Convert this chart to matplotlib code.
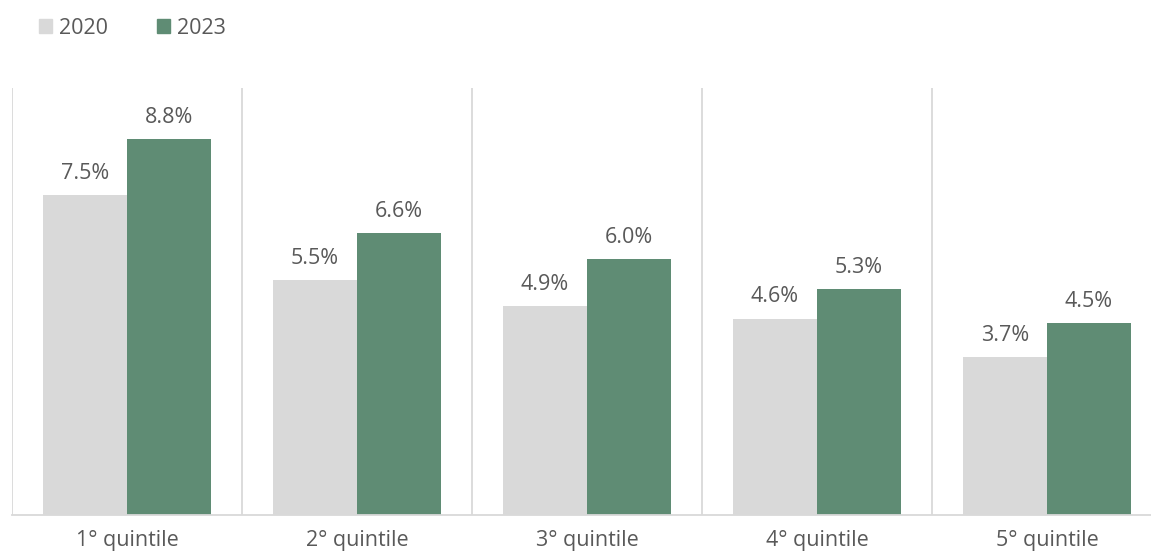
import matplotlib.pyplot as plt
import numpy as np
from matplotlib.patches import Patch

categories = ["1° quintile", "2° quintile", "3° quintile", "4° quintile", "5° quintile"]
values_2020 = [7.5, 5.5, 4.9, 4.6, 3.7]
values_2023 = [8.8, 6.6, 6.0, 5.3, 4.5]
series_labels = ["2020", "2023"]

GRAY = "#d9d9d9"
GREEN = "#5f8c74"
TEXT = "#595959"

plt.rcParams["font.family"] = ["Open Sans", "DejaVu Sans"]

fig = plt.figure(figsize=(11.51, 5.56), dpi=100)
ax = fig.add_axes([12 / 1151, 41 / 556, (1151 - 12) / 1151, (515 - 88) / 556])

x = np.arange(len(categories))
width = 0.365
bars_a = ax.bar(x - width / 2, values_2020, width, color=GRAY)
bars_b = ax.bar(x + width / 2, values_2023, width, color=GREEN)

for bars, vals in ((bars_a, values_2020), (bars_b, values_2023)):
    for b, v in zip(bars, vals):
        ax.annotate(f"{v:.1f}%", (b.get_x() + b.get_width() / 2, v),
                    xytext=(0, 8), textcoords="offset points",
                    ha="center", va="bottom", fontsize=15.5, color=TEXT)

# separators between categories
for xs in np.arange(-0.5, len(categories), 1.0):
    ax.axvline(xs, color=GRAY, linewidth=1.3, zorder=0)

# the last category is cut at the right edge
ax.set_xlim(-0.5, 4 + (1151 - 1047) / 230)
ax.set_ylim(0, 10)
ax.set_xticks(x)
ax.set_xticklabels(categories, fontsize=15.5, color=TEXT)
ax.tick_params(axis="x", length=0, pad=11)
ax.set_yticks([])
for side in ("top", "right", "left"):
    ax.spines[side].set_visible(False)
ax.spines["bottom"].set_color(GRAY)
ax.spines["bottom"].set_linewidth(1.3)

handles = [Patch(color=GRAY), Patch(color=GREEN)]
fig.legend(handles, series_labels, loc="center left", bbox_to_anchor=(20 / 1151, 1 - 28 / 556),
           ncol=2, frameon=False, fontsize=15.5, labelcolor=TEXT,
           handlelength=0.6, handleheight=0.6, handletextpad=0.3, columnspacing=2.3)

fig.savefig("out.png", dpi=100)
